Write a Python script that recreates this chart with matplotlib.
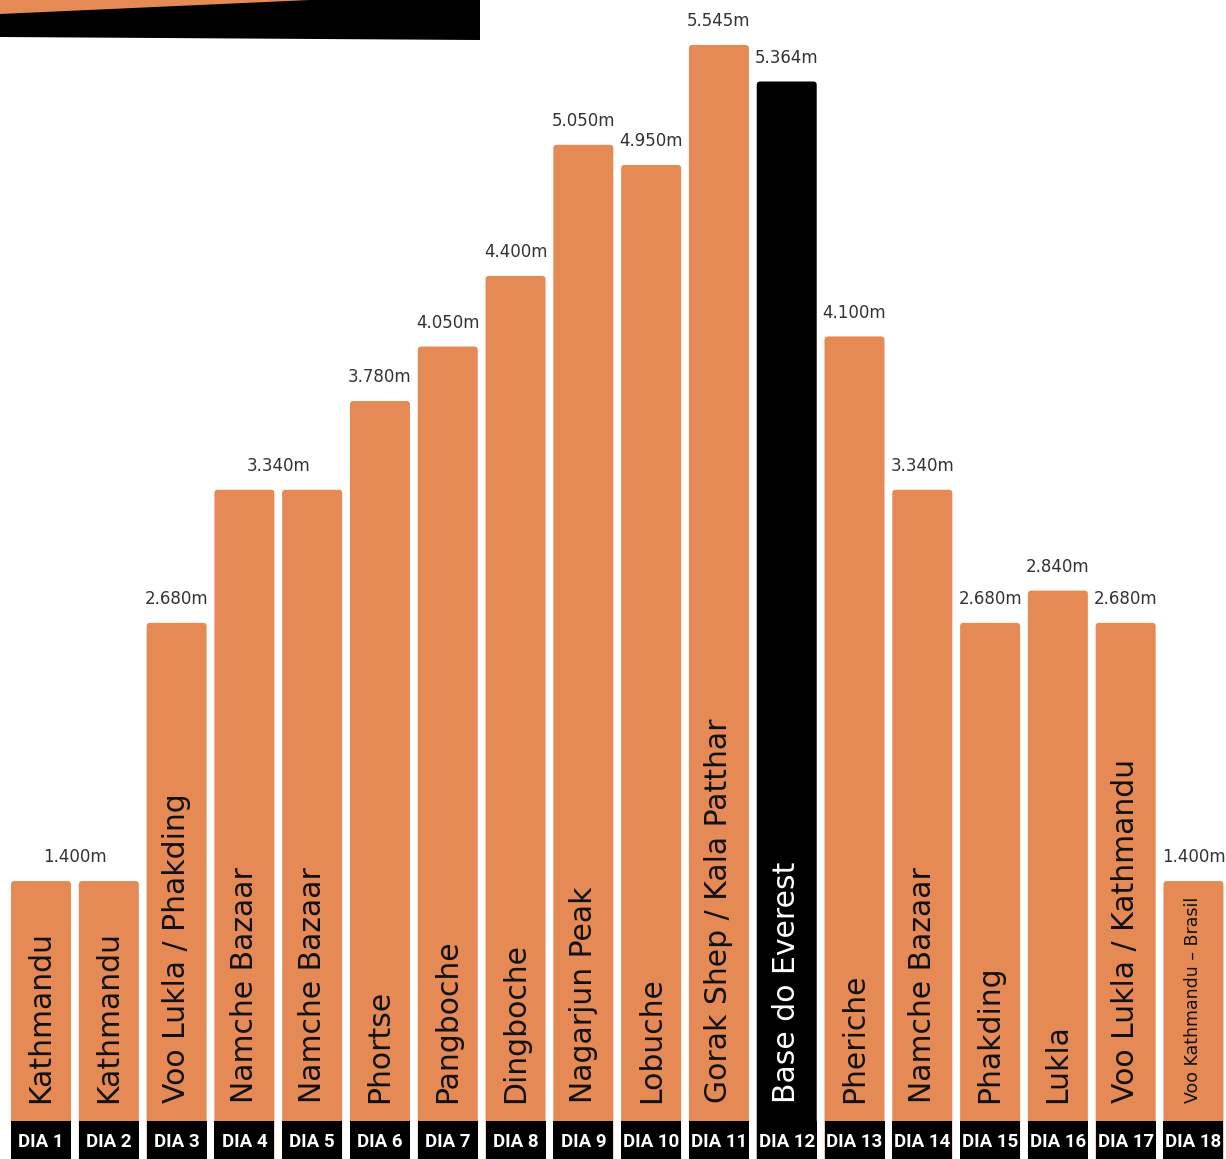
import matplotlib.pyplot as plt
from matplotlib.patches import FancyBboxPatch, Rectangle, Polygon

# trek data
days = ["DIA 1", "DIA 2", "DIA 3", "DIA 4", "DIA 5", "DIA 6", "DIA 7", "DIA 8", "DIA 9",
        "DIA 10", "DIA 11", "DIA 12", "DIA 13", "DIA 14", "DIA 15", "DIA 16", "DIA 17", "DIA 18"]
places = ["Kathmandu", "Kathmandu", "Voo Lukla / Phakding", "Namche Bazaar", "Namche Bazaar",
          "Phortse", "Pangboche", "Dingboche", "Nagarjun Peak", "Lobuche",
          "Gorak Shep / Kala Patthar", "Base do Everest", "Pheriche", "Namche Bazaar",
          "Phakding", "Lukla", "Voo Lukla / Kathmandu", "Voo Kathmandu – Brasil"]
altitudes = [1400, 1400, 2680, 3340, 3340, 3780, 4050, 4400, 5050, 4950,
             5545, 5364, 4100, 3340, 2680, 2840, 2680, 1400]
highlight = "Base do Everest"

ORANGE = "#E68A55"
BLACK = "#000000"

fig = plt.figure(figsize=(12.26, 11.59), dpi=100)
ax = fig.add_axes([0, 0, 1, 1])
ax.set_xlim(-0.605, 17.48)
ax.set_ylim(22, 5768)
ax.axis("off")

w = 0.885
# aspect so rounding looks round in pixels
px_x = 1226 / (17.48 + 0.605)
px_y = 1159 / (5768 - 22)
asp = px_x / px_y

for i, (place, alt) in enumerate(zip(places, altitudes)):
    col = BLACK if place == highlight else ORANGE
    bar = FancyBboxPatch((i - w / 2, 0), w, alt,
                         boxstyle="round,pad=0,rounding_size=0.05",
                         mutation_aspect=asp, fc=col, ec="none")
    ax.add_patch(bar)
    # black day box at the bottom
    ax.add_patch(Rectangle((i - w / 2, 0), w, 210, fc=BLACK, ec="none", zorder=3))
    ax.text(i, 104, days[i], color="white", ha="center", va="center",
            fontsize=13.5, fontweight="bold", family=["Roboto", "DejaVu Sans"],
            zorder=4)
    tcol = "white" if place == highlight else "#111111"
    fs = 12.5 if "Brasil" in place else 21.5
    ax.text(i, 300, place, rotation=90, ha="center", va="bottom",
            color=tcol, fontsize=fs, zorder=4)

# altitude labels, one label per run of equal values
i = 0
while i < len(altitudes):
    j = i
    while j + 1 < len(altitudes) and altitudes[j + 1] == altitudes[i]:
        j += 1
    lab = f"{altitudes[i]:,}m".replace(",", ".")
    ax.annotate(lab, ((i + j) / 2, altitudes[i]), xytext=(0, 17),
                textcoords="offset points", ha="center", va="center",
                fontsize=12, color="#333333")
    i = j + 1

# decoration top-left
H = 1159.0
W = 1226.0
fig.patches.append(Polygon([(0, 1), (480 / W, 1), (480 / W, 1 - 40 / H), (0, 1 - 37 / H)],
                           closed=True, fc=BLACK, ec="none", transform=fig.transFigure))
fig.patches.append(Polygon([(0, 1), (310 / W, 1), (0, 1 - 14 / H)],
                           closed=True, fc=ORANGE, ec="none", transform=fig.transFigure))

fig.savefig("out.png", dpi=100)
